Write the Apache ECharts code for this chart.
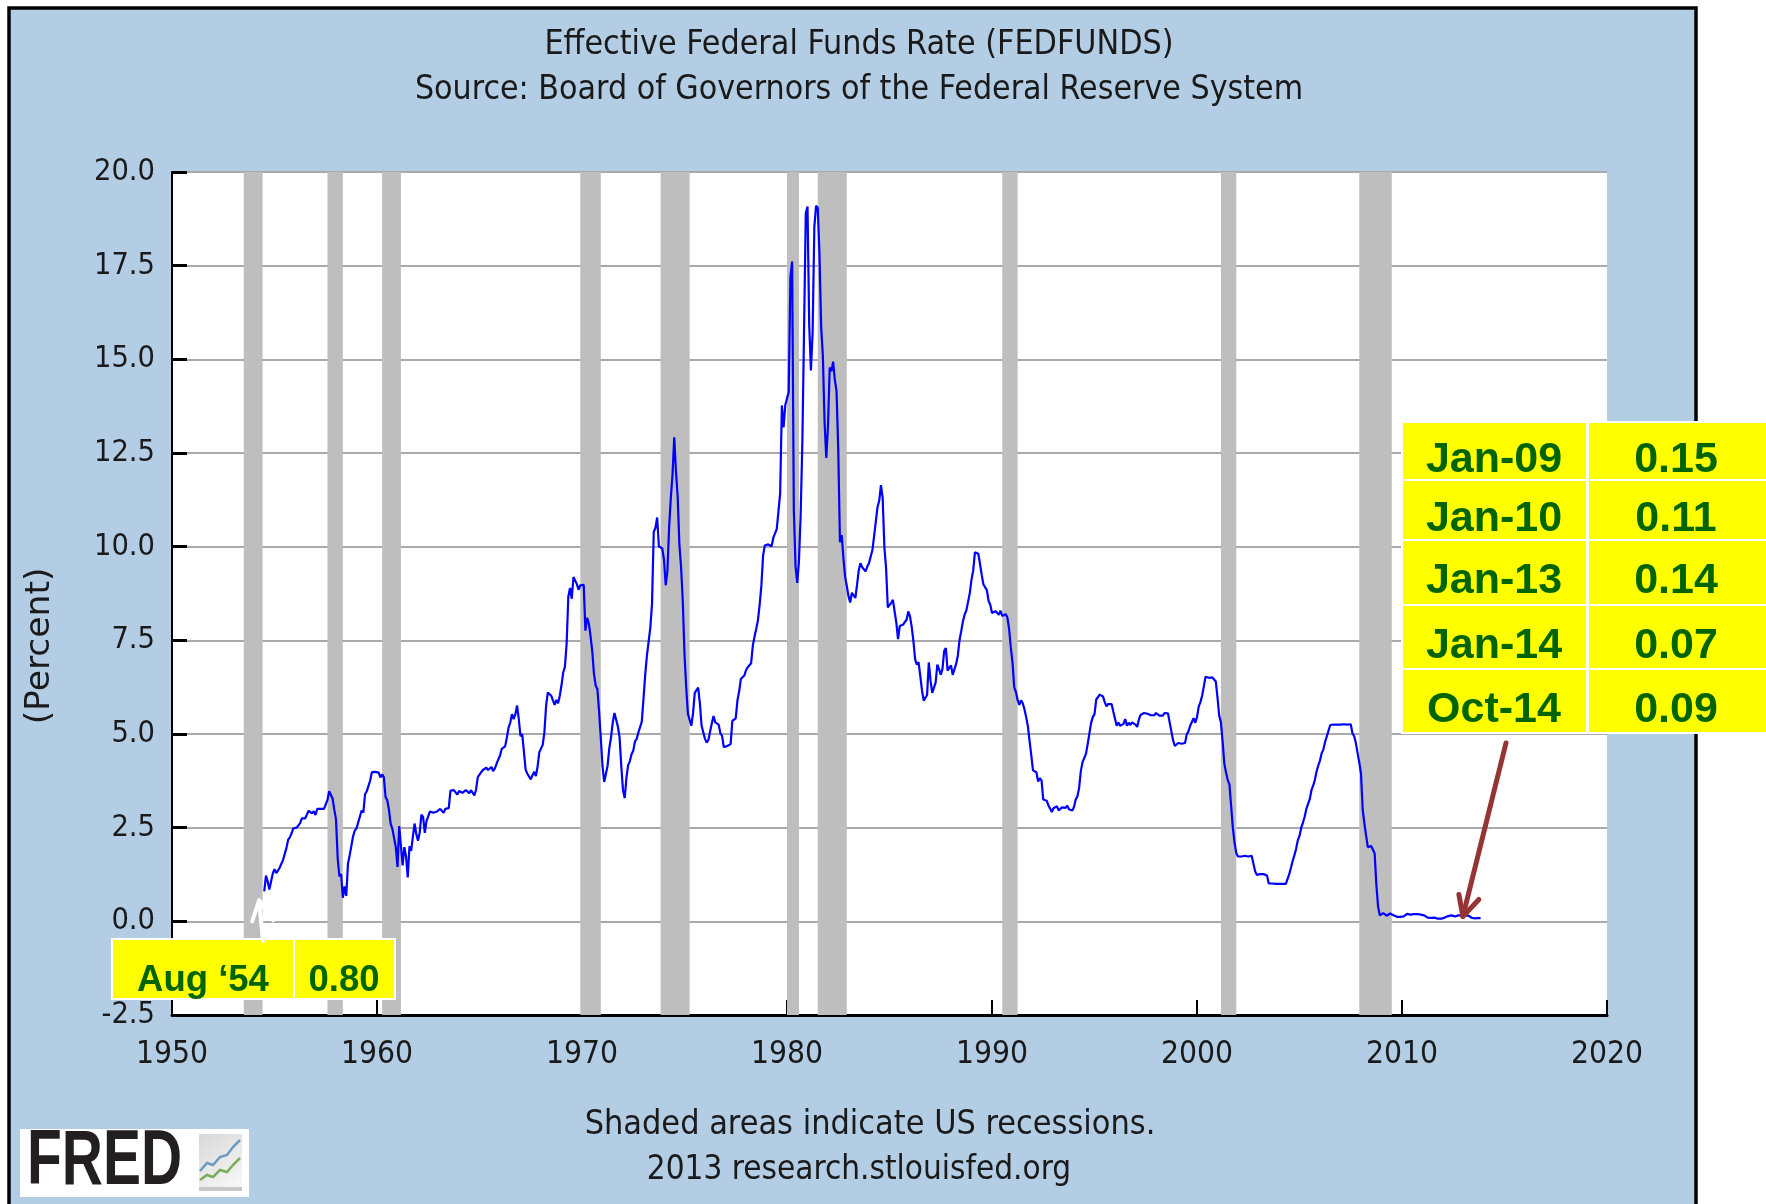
<!DOCTYPE html>
<html>
<head>
<meta charset="utf-8">
<title>Effective Federal Funds Rate (FEDFUNDS)</title>
<script src="https://cdn.jsdelivr.net/npm/echarts@6/dist/echarts.min.js"></script>
<style>
  html, body { margin: 0; padding: 0; background: #fff; }
  #chart { width: 1766px; height: 1204px; }
</style>
</head>
<body>
<div id="chart"></div>
<script>
// monthly effective fed funds rate, first value is Jul 1954
var startYear = 1954, startMonth = 7;
var fedFunds = [
  0.80, 1.22, 1.07, 0.85, 0.83, 1.28,
  1.39, 1.29, 1.35, 1.43, 1.43, 1.64, 1.68, 1.96, 2.18, 2.24, 2.35, 2.48,
  2.45, 2.50, 2.50, 2.62, 2.75, 2.71, 2.75, 2.73, 2.95, 2.96, 2.88, 2.94,
  2.84, 3.00, 2.96, 3.00, 3.00, 3.00, 2.99, 3.24, 3.47, 3.50, 3.28, 2.98,
  2.72, 1.67, 1.20, 1.26, 0.63, 0.93, 0.68, 1.53, 1.76, 1.80, 2.27, 2.42,
  2.48, 2.43, 2.80, 2.96, 2.90, 3.39, 3.47, 3.50, 3.76, 3.98, 4.00, 3.99,
  3.99, 3.97, 3.84, 3.92, 3.85, 3.32, 3.23, 2.98, 2.60, 2.47, 2.44, 1.98,
  1.45, 2.54, 2.02, 1.49, 1.98, 1.73, 1.17, 2.00, 1.88, 2.26, 2.61, 2.33,
  2.15, 2.37, 2.85, 2.78, 2.36, 2.68, 2.71, 2.93, 2.90, 2.90, 2.94, 2.93,
  2.92, 3.00, 2.98, 2.90, 3.00, 2.99, 3.02, 3.49, 3.48, 3.50, 3.48, 3.38,
  3.48, 3.48, 3.43, 3.47, 3.50, 3.50, 3.42, 3.50, 3.45, 3.36, 3.52, 3.85,
  3.90, 3.98, 4.04, 4.09, 4.10, 4.04, 4.09, 4.12, 4.01, 4.08, 4.10, 4.32,
  4.42, 4.60, 4.65, 4.67, 4.90, 5.17, 5.30, 5.53, 5.40, 5.53, 5.76, 5.40,
  4.94, 5.00, 4.53, 4.05, 3.94, 3.98, 3.79, 3.90, 3.99, 3.88, 4.13, 4.51,
  4.61, 4.71, 5.05, 5.76, 6.11, 6.07, 6.02, 6.03, 5.78, 5.91, 5.82, 6.02,
  6.30, 6.64, 6.79, 7.41, 8.67, 8.90, 8.61, 9.19, 9.15, 9.00, 8.85, 8.97,
  8.98, 8.98, 7.76, 8.10, 7.95, 7.61, 7.21, 6.61, 6.29, 6.20, 5.60, 4.90,
  4.14, 3.72, 3.71, 4.16, 4.63, 4.91, 5.31, 5.56, 5.55, 5.20, 4.91, 4.14,
  3.50, 3.29, 3.83, 4.17, 4.27, 4.46, 4.55, 4.80, 4.87, 5.04, 5.06, 5.33,
  5.94, 6.58, 7.09, 7.12, 7.84, 8.49, 10.40, 10.50, 10.78, 10.01, 10.03, 9.95,
  9.65, 8.97, 9.35, 10.51, 11.31, 11.93, 12.92, 12.01, 11.34, 10.06, 9.45, 8.53,
  7.13, 6.24, 5.54, 5.49, 5.22, 5.55, 6.10, 6.14, 6.24, 5.82, 5.22, 5.20,
  4.87, 4.77, 4.84, 4.82, 5.29, 5.48, 5.31, 5.29, 5.25, 5.02, 4.95, 4.65,
  4.61, 4.68, 4.69, 4.73, 5.35, 5.39, 5.42, 5.90, 6.14, 6.47, 6.51, 6.56,
  6.70, 6.78, 6.79, 6.89, 7.36, 7.60, 7.81, 8.04, 8.45, 8.96, 9.76, 10.03,
  10.07, 10.06, 10.09, 10.01, 10.24, 10.29, 10.47, 10.94, 11.43, 13.77, 13.18, 13.78,
  13.82, 14.13, 17.19, 17.61, 10.98, 9.47, 9.03, 9.61, 10.87, 12.81, 15.85, 18.90,
  19.08, 15.93, 14.70, 15.72, 18.52, 19.10, 19.04, 17.82, 15.87, 15.08, 13.31, 12.37,
  13.22, 14.78, 14.68, 14.94, 14.45, 14.15, 12.59, 10.12, 10.31, 9.71, 9.20, 8.95,
  8.68, 8.51, 8.77, 8.80, 8.63, 8.98, 9.37, 9.56, 9.45, 9.48, 9.34, 9.47,
  9.56, 9.59, 9.91, 10.29, 10.32, 11.06, 11.23, 11.64, 11.30, 9.99, 9.43, 8.38,
  8.35, 8.50, 8.58, 8.27, 7.97, 7.53, 7.88, 7.90, 7.92, 7.99, 8.05, 8.27,
  8.14, 7.86, 7.48, 6.99, 6.85, 6.92, 6.56, 6.17, 5.89, 5.85, 6.04, 6.91,
  6.43, 6.10, 6.13, 6.37, 6.85, 6.73, 6.58, 6.73, 7.22, 7.29, 6.69, 6.77,
  6.83, 6.58, 6.58, 6.87, 7.09, 7.51, 7.75, 8.01, 8.19, 8.30, 8.35, 8.76,
  9.12, 9.36, 9.85, 9.84, 9.81, 9.53, 9.24, 8.99, 9.02, 8.84, 8.55, 8.45,
  8.23, 8.24, 8.28, 8.26, 8.18, 8.29, 8.15, 8.13, 8.20, 8.11, 7.81, 7.31,
  6.91, 6.25, 6.12, 5.91, 5.78, 5.90, 5.82, 5.66, 5.45, 5.21, 4.81, 4.43,
  4.03, 4.06, 3.98, 3.73, 3.82, 3.76, 3.25, 3.30, 3.22, 3.10, 3.09, 2.92,
  3.02, 3.03, 3.07, 2.96, 3.00, 3.04, 3.06, 3.03, 3.09, 2.99, 3.02, 2.96,
  3.05, 3.25, 3.34, 3.56, 4.01, 4.25, 4.26, 4.47, 4.73, 4.76, 5.29, 5.45,
  5.53, 5.92, 5.98, 6.05, 6.01, 6.00, 5.85, 5.74, 5.80, 5.76, 5.80, 5.60,
  5.56, 5.22, 5.31, 5.22, 5.24, 5.27, 5.40, 5.22, 5.30, 5.24, 5.31, 5.29,
  5.25, 5.19, 5.39, 5.51, 5.50, 5.56, 5.52, 5.54, 5.54, 5.50, 5.52, 5.50,
  5.56, 5.51, 5.49, 5.45, 5.49, 5.56, 5.54, 5.55, 5.51, 5.07, 4.83, 4.68,
  4.63, 4.76, 4.81, 4.74, 4.74, 4.76, 4.99, 5.07, 5.22, 5.20, 5.42, 5.30,
  5.45, 5.73, 5.85, 6.02, 6.27, 6.53, 6.54, 6.50, 6.52, 6.51, 6.51, 6.40,
  5.98, 5.49, 5.31, 4.80, 4.21, 3.97, 3.77, 3.65, 3.07, 2.49, 2.09, 1.82,
  1.73, 1.74, 1.73, 1.75, 1.75, 1.75, 1.73, 1.74, 1.75, 1.75, 1.34, 1.24,
  1.24, 1.26, 1.25, 1.26, 1.26, 1.22, 1.01, 1.03, 1.01, 1.01, 1.00, 0.98,
  1.00, 1.01, 1.00, 1.00, 1.00, 1.03, 1.26, 1.43, 1.61, 1.76, 1.93, 2.16,
  2.28, 2.50, 2.63, 2.79, 3.00, 3.04, 3.26, 3.50, 3.62, 3.78, 4.00, 4.16,
  4.29, 4.49, 4.59, 4.79, 4.94, 4.99, 5.24, 5.25, 5.25, 5.25, 5.25, 5.24,
  5.25, 5.26, 5.26, 5.25, 5.25, 5.25, 5.26, 5.02, 4.94, 4.76, 4.49, 4.24,
  3.94, 2.98, 2.61, 2.28, 1.98, 2.00, 2.01, 2.00, 1.81, 0.97, 0.39, 0.16,
  0.15, 0.22, 0.18, 0.15, 0.18, 0.21, 0.16, 0.16, 0.15, 0.12, 0.12, 0.12,
  0.11, 0.13, 0.16, 0.20, 0.20, 0.18, 0.18, 0.19, 0.19, 0.19, 0.19, 0.18,
  0.17, 0.16, 0.14, 0.10, 0.09, 0.09, 0.07, 0.10, 0.08, 0.07, 0.08, 0.07,
  0.08, 0.10, 0.13, 0.14, 0.16, 0.16, 0.16, 0.13, 0.14, 0.16, 0.16, 0.16,
  0.14, 0.15, 0.14, 0.15, 0.11, 0.09, 0.09, 0.08, 0.08, 0.09, 0.08
];

// NBER recessions, peak month to trough month
var recessionPeaks   = ['1953-07', '1957-08', '1960-04', '1969-12', '1973-11', '1980-01', '1981-07', '1990-07', '2001-03', '2007-12'];
var recessionTroughs = ['1954-05', '1958-04', '1961-02', '1970-11', '1975-03', '1980-07', '1982-11', '1991-03', '2001-11', '2009-06'];

// pasted-on annotations
var tableDates  = ['Jan-09', 'Jan-10', 'Jan-13', 'Jan-14', 'Oct-14'];
var tableValues = ['0.15', '0.11', '0.14', '0.07', '0.09'];
var firstDate = 'Aug \u201854';
var firstValue = '0.80';

var FRED_FONT = "'DejaVu Sans Condensed', 'DejaVu Sans', sans-serif";
var BOX_FONT = "'Liberation Sans', Arial, sans-serif";

function monthPos(s, toEnd) {
	var p = s.split('-');
	return Number(p[0]) + (Number(p[1]) - 1 + (toEnd ? 1 : 0)) / 12;
}

var points = [];
for (var i = 0; i < fedFunds.length; i++) {
	points.push([startYear + (startMonth - 1 + i) / 12, fedFunds[i]]);
}
var bands = [];
for (var j = 0; j < recessionPeaks.length; j++) {
	bands.push([{xAxis: monthPos(recessionPeaks[j], false)}, {xAxis: monthPos(recessionTroughs[j], true)}]);
}

var chart = echarts.init(document.getElementById('chart'), null, {renderer: 'canvas'});
var option = {
	animation: false,
	backgroundColor: '#ffffff',
	grid: {
		left: 172, top: 172, right: 159, bottom: 189,
		show: true, backgroundColor: '#ffffff', borderWidth: 0
	},
	xAxis: {
		type: 'value', min: 1950, max: 2020, interval: 10,
		axisLine: {onZero: false, lineStyle: {color: '#000', width: 3}},
		axisTick: {show: true, inside: true, length: 15, lineStyle: {color: '#000', width: 2}},
		axisLabel: {
			margin: 24, fontSize: 31.5, color: '#1a1a1a', fontFamily: FRED_FONT,
			formatter: function (v) { return String(v); }
		},
		splitLine: {show: false}
	},
	yAxis: {
		type: 'value', min: -2.5, max: 20, interval: 2.5,
		axisLine: {show: true, lineStyle: {color: '#000', width: 2}},
		axisTick: {show: true, inside: true, length: 15, lineStyle: {color: '#000', width: 3}},
		axisLabel: {
			margin: 17, fontSize: 30.5, color: '#1a1a1a', fontFamily: FRED_FONT,
			formatter: function (v) { return v.toFixed(1); }
		},
		splitLine: {show: true, lineStyle: {color: '#aaaaaa', width: 2}}
	},
	series: [{
		name: 'FEDFUNDS',
		type: 'line',
		data: points,
		symbol: 'none',
		z: 3,
		lineStyle: {color: '#0000ff', width: 2.2},
		markArea: {
			silent: true,
			itemStyle: {color: '#bebebe', opacity: 1},
			data: bands
		}
	}]
};
chart.setOption(option);

// annotations, placed after the grid exists
var tip1 = chart.convertToPixel({gridIndex: 0}, [2012.97, 0.13]);
var tip2 = chart.convertToPixel({gridIndex: 0}, [1954.25, 0.56]);

var TOP_Z = 100;
function cell(x, y, w, h) {
	return {type: 'rect', z: TOP_Z, shape: {x: x, y: y, width: w, height: h},
		style: {fill: '#ffff00', stroke: '#ffffff', lineWidth: 2}};
}
function boxText(txt, x, y, size) {
	return {type: 'text', z: TOP_Z + 1, x: x, y: y,
		style: {text: txt, fill: '#006400', font: 'bold ' + size + 'px ' + BOX_FONT,
			align: 'center', verticalAlign: 'middle'}};
}
function plainText(txt, x, y, size) {
	return {type: 'text', x: x, y: y,
		style: {text: txt, fill: '#1a1a1a', font: size + 'px ' + FRED_FONT,
			align: 'center', verticalAlign: 'middle'}};
}
function stroke(pts, color, w) {
	return {type: 'polyline', z: TOP_Z + 2, shape: {points: pts},
		style: {stroke: color, lineWidth: w, fill: null, lineJoin: 'round', lineCap: 'round'}};
}

var rowEdges = [422, 480, 540, 605, 669, 733];
var table = [];
for (var r = 0; r < tableDates.length; r++) {
	var rowTop = rowEdges[r], rowH = rowEdges[r + 1] - rowTop;
	table.push(cell(1402, rowTop, 185, rowH));
	table.push(cell(1588, rowTop, 180, rowH));
	table.push(boxText(tableDates[r], 1494, rowTop + rowH / 2 + 9, 43));
	table.push(boxText(tableValues[r], 1676, rowTop + rowH / 2 + 9, 43));
}

var graphic = [
	// blue FRED frame
	{type: 'rect', z: -10, shape: {x: 9, y: 8, width: 1687, height: 1260},
		style: {fill: '#b3cde4', stroke: '#000', lineWidth: 3.5}},
	plainText('Effective Federal Funds Rate (FEDFUNDS)', 859, 45, 33.7),
	plainText('Source: Board of Governors of the Federal Reserve System', 859, 90, 33.6),
	plainText('Shaded areas indicate US recessions.', 870, 1125.5, 33.9),
	plainText('2013 research.stlouisfed.org', 859, 1170.5, 33),
	{type: 'text', x: 40, y: 646, rotation: Math.PI / 2,
		style: {text: '(Percent)', fill: '#1a1a1a', font: "34.5px 'DejaVu Sans', sans-serif",
			align: 'center', verticalAlign: 'middle'}},
	// FRED logo
	{type: 'rect', z: 50, shape: {x: 20, y: 1129, width: 229, height: 68}, style: {fill: '#ffffff'}},
	{type: 'text', z: 51, x: 27, y: 1163, scaleX: 0.74,
		style: {text: 'FRED', fill: '#231f20', font: 'bold 77px ' + BOX_FONT, align: 'left', verticalAlign: 'middle'}},
	{type: 'rect', z: 51, shape: {x: 199, y: 1134, width: 43, height: 57},
		style: {fill: new echarts.graphic.LinearGradient(0, 0, 1, 1, [
			{offset: 0, color: '#d8d8d8'}, {offset: 1, color: '#fafafa'}])}},
	{type: 'rect', z: 52, shape: {x: 199, y: 1187, width: 43, height: 4}, style: {fill: '#c8c8c8'}},
	{type: 'polyline', z: 52, shape: {points: [[200, 1171], [207, 1163], [213, 1165], [220, 1157], [227, 1155], [233, 1147], [240, 1140]]},
		style: {stroke: '#6b9bc0', lineWidth: 2.5, fill: null}},
	{type: 'polyline', z: 52, shape: {points: [[200, 1180], [207, 1175], [213, 1177], [220, 1170], [227, 1172], [233, 1165], [240, 1158]]},
		style: {stroke: '#7aac5a', lineWidth: 2.5, fill: null}},
	// Aug '54 box and white arrow
	cell(112, 939, 182, 60),
	cell(294, 939, 101, 60),
	boxText(firstDate, 203, 981, 36.5),
	boxText(firstValue, 344, 981, 36.5),
	stroke([[263, 941], tip2], '#ffffff', 4),
	stroke([[tip2[0] - 7, tip2[1] + 21], tip2, [tip2[0] + 14, tip2[1] + 20]], '#ffffff', 4),
	// brown arrow from the table down to the latest values
	stroke([[1506, 743], tip1], '#943434', 5),
	stroke([[tip1[0] - 4, tip1[1] - 22], tip1, [tip1[0] + 16, tip1[1] - 17]], '#943434', 5)
].concat(table);
chart.setOption({graphic: graphic});
</script>
</body>
</html>
